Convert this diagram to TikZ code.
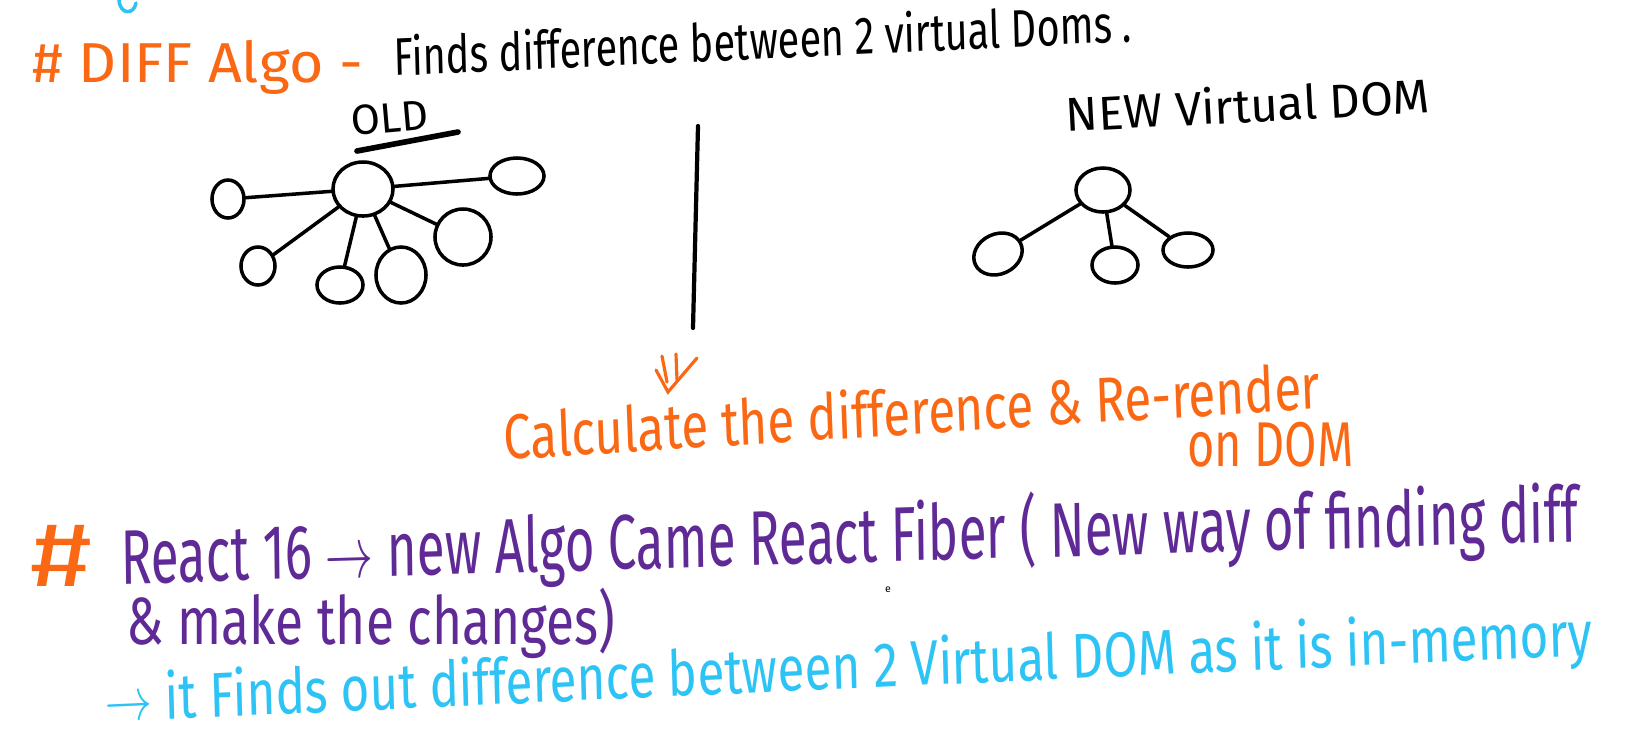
\documentclass[tikz,border=0pt]{standalone}
\usepackage{fontspec}
\setmainfont{Fira Sans}
\usepackage{tikz}
\usetikzlibrary{shapes.geometric}
\usepackage{xcolor}
\definecolor{markorange}{RGB}{250,104,20}
\definecolor{inkpurple}{RGB}{96,42,150}
\definecolor{inkblue}{RGB}{45,196,245}

\tikzset{
  hand/.style={inner sep=0pt,anchor=base west},
  blob/.style={draw,ellipse,inner sep=0pt,line width=1pt},
  stem/.style={line width=1pt}
}

\begin{document}
\begin{tikzpicture}[x=0.01cm,y=-0.01cm,line cap=round]
        \useasboundingbox[fill=white] (0,0) rectangle (1647,738);
        % Stray stroke top left
        \draw[inkblue,line width=1pt] (119,0) .. controls (120,15) and (134,15) .. (136,3);
        % Heading
        \node[hand,text=markorange,font=\fontsize{16}{19}\selectfont,xscale=1.05]
          (diffhead) at (32,82) {\# DIFF Algo -};
        \node[hand,font=\fontsize{15}{18}\selectfont,xscale=0.75,rotate=2]
          (diffdesc) at (394,76) {Finds difference between 2 virtual Doms .};
        % Old tree
        \node[hand,font=\fontsize{12}{14}\selectfont,rotate=5] (oldlabel) at (352,136) {OLD};
        \draw[line width=1.6pt] (357,151) -- (458,132);
        \node[blob,minimum width=0.60cm,minimum height=0.54cm] (oldroot) at (363,189) {};
        \node[blob,minimum width=0.32cm,minimum height=0.38cm] (oldleft) at (228,199) {};
        \node[blob,minimum width=0.54cm,minimum height=0.36cm] (oldright) at (517,176) {};
        \node[blob,minimum width=0.34cm,minimum height=0.38cm] (oldlowleft) at (258,266) {};
        \node[blob,minimum width=0.46cm,minimum height=0.36cm] (oldbottom) at (340,285) {};
        \node[blob,minimum width=0.50cm,minimum height=0.56cm] (oldhook) at (401,275) {};
        \node[blob,minimum width=0.56cm,minimum height=0.56cm] (oldlowright) at (463,237) {};
        \foreach \kid in {oldleft,oldright,oldlowleft,oldbottom,oldhook,oldlowright}
          \draw[stem] (oldroot) -- (\kid);
        % Divider
        \draw[line width=1.2pt] (698,126) -- (693,328);
        % New tree
        \node[hand,font=\fontsize{13.5}{16}\selectfont,rotate=3] (newlabel) at (1066,132) {NEW Virtual DOM};
        \node[blob,minimum width=0.54cm,minimum height=0.44cm] (newroot) at (1103,190) {};
        \node[blob,minimum width=0.50cm,minimum height=0.40cm,rotate=25] (newleft) at (998,254) {};
        \node[blob,minimum width=0.46cm,minimum height=0.36cm] (newmid) at (1115,265) {};
        \node[blob,minimum width=0.50cm,minimum height=0.34cm] (newright) at (1188,250) {};
        \foreach \kid in {newleft,newmid,newright}
          \draw[stem] (newroot) -- (\kid);
        % Double arrow down
        \draw[markorange,line width=0.9pt] (662,356) -- (667,382);
        \draw[markorange,line width=0.9pt] (676,354) -- (677,380);
        \draw[markorange,line width=0.9pt] (656,370) -- (668,392) -- (697,358);
        % Result line
        \node[hand,text=markorange,font=\fontsize{18}{22}\selectfont,xscale=0.78,rotate=2.8]
          (calcline) at (504,460) {Calculate the difference \& Re-render};
        \node[hand,text=markorange,font=\fontsize{18}{22}\selectfont,xscale=0.74]
          (calcdom) at (1187,466) {on DOM};
        % React fiber note
        \node[hand,text=markorange,font=\fontsize{26}{30}\selectfont,xscale=1.3]
          (fiberhash) at (30,586) {\#};
        \node[hand,text=inkpurple,font=\fontsize{22}{26}\selectfont,xscale=0.66,rotate=1.1]
          (fiberline) at (121,584) {React 16 $\rightarrow$ new Algo Came React Fiber ( New way of finding diff};
        \node[hand,text=inkpurple,font=\fontsize{19}{23}\selectfont,xscale=0.77]
          (fiberend) at (126,644) {\& make the changes)};
        \node[font=\fontsize{3}{3}\selectfont,inner sep=0pt] (stray) at (888,590) {e};
        \node[hand,text=inkblue,font=\fontsize{18}{22}\selectfont,xscale=0.78,rotate=2]
          (memline) at (105,722) {$\rightarrow$ it Finds out difference between 2 Virtual DOM as it is in-memory};
      \end{tikzpicture}
\end{document}
